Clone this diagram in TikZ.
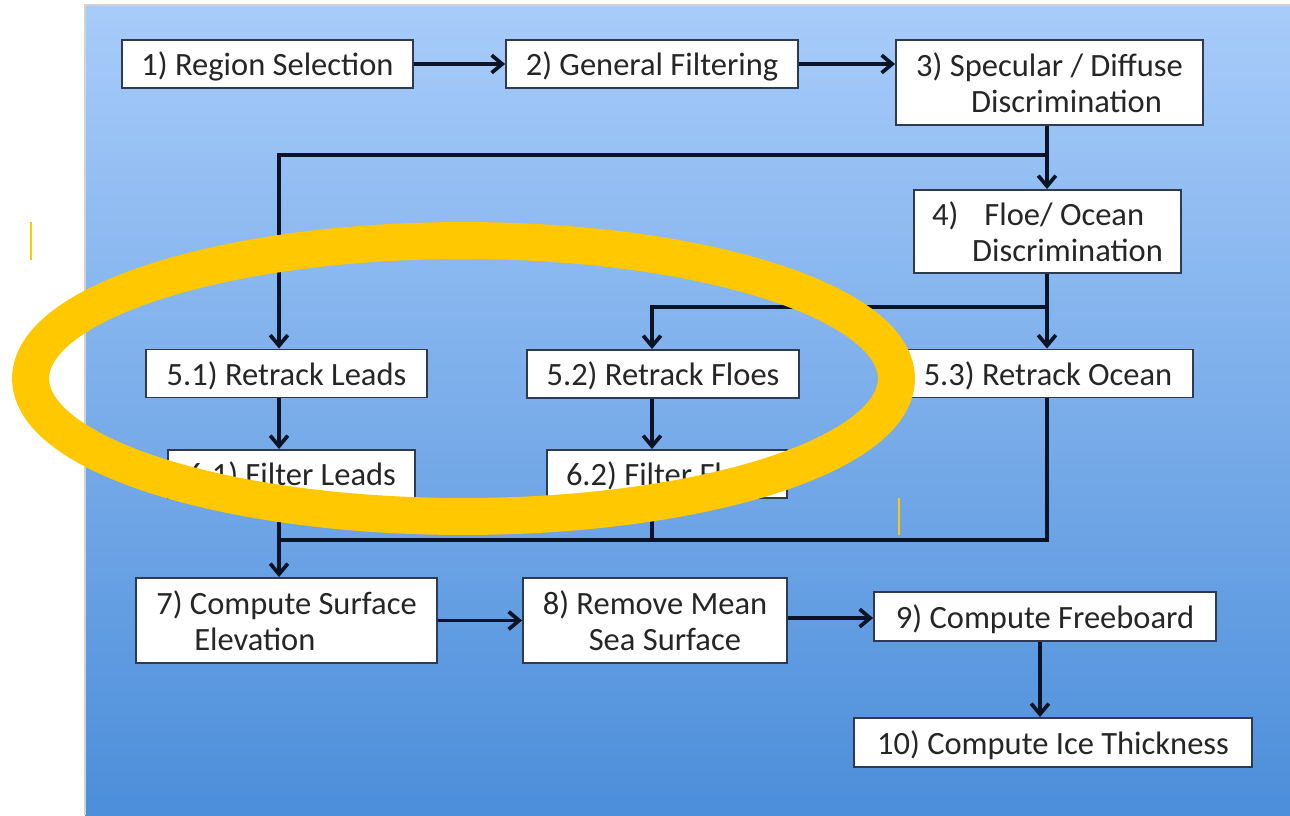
\documentclass[tikz,border=0pt]{standalone}
\usepackage{fontspec}
\setmainfont{Carlito}
\usepackage{xcolor}
\usetikzlibrary{arrows.meta,positioning}

\definecolor{bgtop}{RGB}{168,204,250}
\definecolor{bgbot}{RGB}{76,142,218}
\definecolor{boxline}{RGB}{45,58,80}
\definecolor{wire}{RGB}{10,20,38}
\definecolor{ring}{RGB}{255,200,0}
\definecolor{txt}{RGB}{38,38,38}

\begin{document}
\begin{tikzpicture}[
        x=0.02cm, y=-0.02cm,
        every node/.style={font=\fontsize{18.5}{20.5}\selectfont, text=txt},
        stage/.style={draw=boxline, line width=1.1pt, fill=white, minimum height=0.96cm, inner sep=0pt, text depth=0pt, align=left},
        twoline/.style={stage, minimum height=1.7cm},
        arrow/.style={-{Straight Barb[length=6pt,width=10pt]}, line width=2.1pt, draw=wire},
        link/.style={line width=2.1pt, draw=wire},
        halo/.style={draw=ring, line width=0.74cm},
    ]
        \useasboundingbox (0,0) rectangle (1290,815);

        % Background panel
        \shade[top color=bgtop, bottom color=bgbot] (85,5) rectangle (1290,815);
        \draw[gray!35, line width=0.6pt] (85,815) -- (85,5) -- (1290,5);

        % Top row
        \node (region) [stage, minimum width=5.82cm] at (267.5,64) {1) Region Selection};
        \node (filter) [stage, minimum width=5.84cm] at (652,64) {2) General Filtering};
        \node (specular) [twoline, minimum width=6.14cm] at (1049.5,82.5) {3) Specular / Diffuse\\\hspace*{1.1cm}Discrimination};
        \node (floe) [twoline, minimum width=5.34cm, minimum height=1.66cm] at (1047.5,231.5) {4)\hspace{0.8em}Floe/ Ocean\\\hspace*{0.8cm}Discrimination};

        % Retracking and filtering
        \node (retleads) [stage, minimum width=5.62cm] at (286.5,373.5) {5.1) Retrack Leads};
        \node (retfloes) [stage, minimum width=5.44cm] at (663,374) {5.2) Retrack Floes};
        \node (retocean) [stage, minimum width=5.8cm] at (1048,373.5) {5.3) Retrack Ocean};
        \node (filleads) [stage, minimum width=4.94cm] at (291.5,474) {6.1) Filter Leads};
        \node (filfloes) [stage, minimum width=4.8cm] at (667,474) {6.2) Filter Floes};

        % Bottom rows
        \node (surface) [twoline, minimum width=6.02cm] at (286.5,620.5) {7) Compute Surface\\\hspace*{0.76cm}Elevation};
        \node (meansea) [twoline, minimum width=5.28cm] at (655,620.5) {8) Remove Mean\\\hspace*{0.92cm}Sea Surface};
        \node (freeboard) [stage, minimum width=6.84cm, minimum height=0.98cm] at (1045,616.5) {9) Compute Freeboard};
        \node (thickness) [stage, minimum width=7.96cm, minimum height=0.98cm] at (1053,742.5) {10) Compute Ice Thickness};

        % Branch and merge points
        \coordinate (colA) at (279,0);
        \coordinate (colB) at (652,0);
        \coordinate (split1) at (1047,155);
        \coordinate (split2) at (1047,307);
        \coordinate (merge) at (279,540);

        % --- Edges ---
        \draw [arrow] (region) -- (filter);
        \draw [arrow] (filter.east) -- (filter.east -| specular.west);
        \draw [arrow] (specular.south -| split1) -- (split1 |- floe.north);
        \draw [arrow] (split1) -| (colA |- retleads.north);
        \draw [arrow] (floe.south -| split2) -- (split2 |- retocean.north);
        \draw [arrow] (split2) -| (colB |- retfloes.north);

        \draw [arrow] (colA |- retleads.south) -- (colA |- filleads.north);
        \draw [arrow] (colB |- retfloes.south) -- (colB |- filfloes.north);

        % Merge into elevation
        \draw [link] (split2 |- retocean.south) |- (merge);
        \draw [link] (colB |- filfloes.south) -- (colB |- merge);
        \draw [arrow] (colA |- filleads.south) -- (colA |- surface.north);

        \draw [arrow] (surface) -- (meansea);
        \draw [arrow] (meansea.east |- 0,618) -- (freeboard.west |- 0,618);
        \draw [arrow] (freeboard.south -| 1040,0) -- (thickness.north -| 1040,0);

        % Highlight ring
        \draw [halo] (463.5,378.5) ellipse [x radius=8.66cm, y radius=2.76cm];
        \draw [ring, line width=0.6pt] (31,222) -- (31,260);
        \draw [ring, line width=0.6pt] (899,498) -- (899,535);

    \end{tikzpicture}
\end{document}
